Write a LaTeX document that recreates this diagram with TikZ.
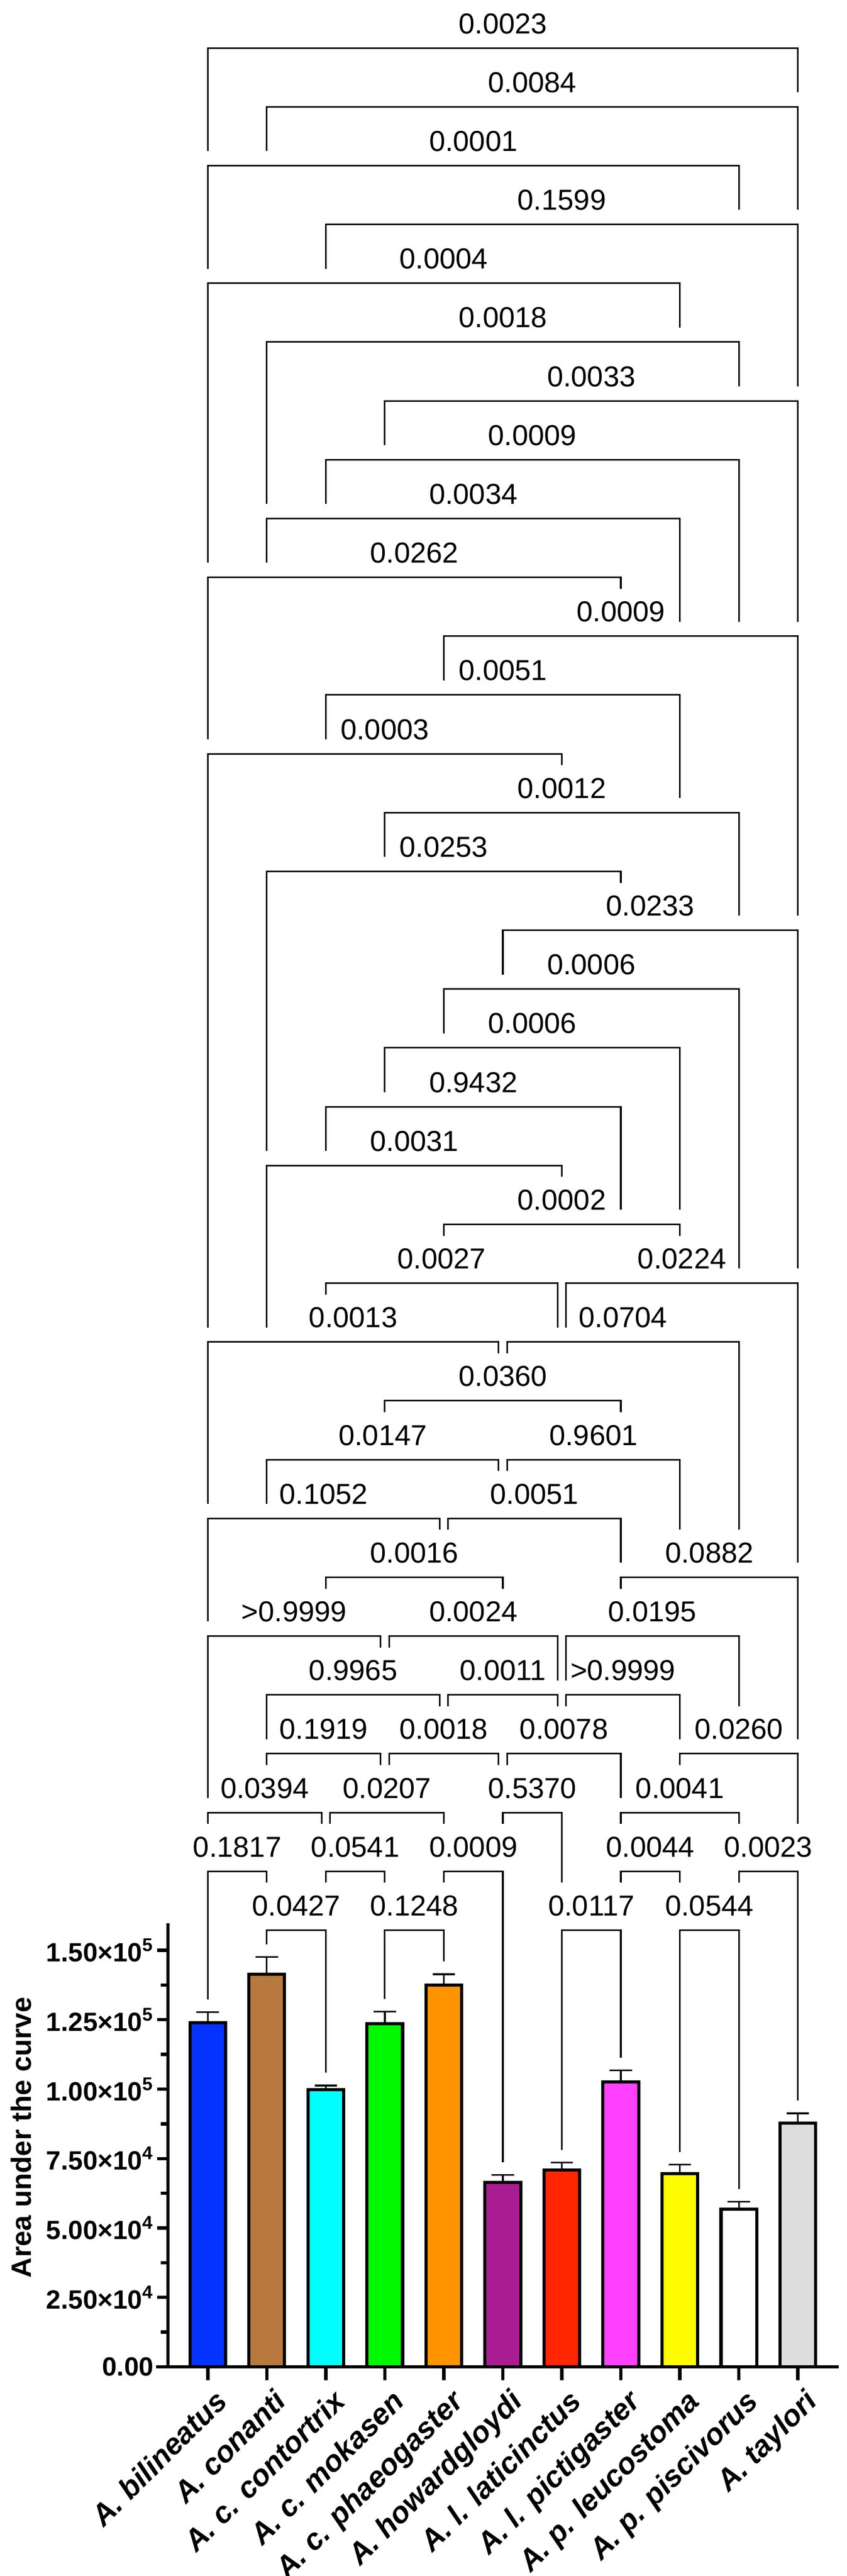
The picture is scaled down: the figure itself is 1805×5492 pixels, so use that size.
\documentclass[tikz,border=0pt]{standalone}
\usepackage{fontspec}
\setmainfont{Liberation Sans}
\definecolor{cB}{HTML}{0433FF}
\definecolor{cC}{HTML}{B8793E}
\definecolor{cCy}{HTML}{00FFFF}
\definecolor{cG}{HTML}{00F900}
\definecolor{cO}{HTML}{FF9300}
\definecolor{cP}{HTML}{AA1C91}
\definecolor{cR}{HTML}{FF2600}
\definecolor{cM}{HTML}{FF40FF}
\definecolor{cY}{HTML}{FFFB00}
\definecolor{cW}{HTML}{FFFFFF}
\definecolor{cGr}{HTML}{DDDDDD}
\tikzset{
 brk/.style={line width=0.034cm, line join=miter},
 plab/.style={inner sep=0pt, font=\fontsize{17.5}{19}\selectfont},
 barbox/.style={line width=0.067cm},
 errl/.style={line width=0.035cm},
 axisl/.style={line width=0.07cm},
 ticklab/.style={anchor=east, inner sep=0pt, font=\bfseries\fontsize{16}{18}\selectfont},
 xlab/.style={anchor=north east, rotate=45, inner sep=0pt, font=\bfseries\itshape\fontsize{18}{20}\selectfont}
}
\newcommand\brk[6]{%
 \pgfmathsetmacro\yy{4115-125.4*#1}%
 \pgfmathsetmacro\xa{443+125.8*#2+#5}%
 \pgfmathsetmacro\xb{443+125.8*#3+#6}%
 \edef\ta{\csname tp#2\endcsname}\edef\tb{\csname tp#3\endcsname}%
 \draw[brk] (\xa,\ta) -- (\xa,\yy) -- (\xb,\yy) -- (\xb,\tb);
 \node[plab] (p#2x#3) at ({(\xa+\xb)/2},{\yy-52}) {#4};}
\newcommand\upd[3]{%
 \pgfmathsetmacro\yb{4115-125.4*#1-31}%
 \pgfmathsetmacro\yl{4115-125.4*#1-101}%
 \foreach \c in {#2,...,#3}{\expandafter\xdef\csname tp\c\endcsname{\yb}}%
 \pgfmathtruncatemacro\ssum{#2+#3}%
 \ifodd\ssum\relax
   \pgfmathtruncatemacro\clA{(\ssum-1)/2}\pgfmathtruncatemacro\clB{(\ssum+1)/2}%
   \expandafter\xdef\csname tp\clA\endcsname{\yl}\expandafter\xdef\csname tp\clB\endcsname{\yl}%
 \else
   \pgfmathtruncatemacro\clA{\ssum/2}\expandafter\xdef\csname tp\clA\endcsname{\yl}%
 \fi}
\begin{document}
\begin{tikzpicture}[x=0.01cm,y=-0.01cm]
\useasboundingbox (0,0) rectangle (1805,5492);
% bars
\foreach \i/\v/\e/\col/\nm in {0/1.240/1.277/cB/A. bilineatus,1/1.414/1.476/cC/A. conanti,2/0.998/1.013/cCy/A. c. contortrix,3/1.235/1.279/cG/A. c. mokasen,4/1.375/1.414/cO/A. c. phaeogaster,5/0.664/0.691/cP/A. howardgloydi,6/0.709/0.735/cR/A. l. laticinctus,7/1.026/1.068/cM/A. l. pictigaster,8/0.696/0.729/cY/A. p. leucostoma,9/0.567/0.594/cW/A. p. piscivorus,10/0.877/0.913/cGr/A. taylori}{
 \pgfmathsetmacro\x{443+125.8*\i}
 \pgfmathsetmacro\yt{5046-\v*592}
 \pgfmathsetmacro\yc{5046-\e*592}
 \draw[errl] (\x,\yt) -- (\x,\yc) (\x-24,\yc) -- (\x+24,\yc);
 \draw[barbox, fill=\col] (\x-38,5046) rectangle (\x+38,\yt);
 \draw[axisl] (\x,5046) -- (\x,5074);
 \node[xlab] (xl\i) at (\x+12,5090) {\nm};
 \pgfmathsetmacro\t{5046-\e*592-27}
 \expandafter\xdef\csname tp\i\endcsname{\t}
}
% axes
\draw[axisl] (358,4100) -- (358,5046);
\draw[axisl] (333,5046) -- (1788,5046);
\foreach \k in {1,...,6}{\draw[axisl] (335,5046-\k*148) -- (358,5046-\k*148);}
\foreach \k in {0,...,5}{\draw[axisl] (343,5046-\k*148-74) -- (358,5046-\k*148-74);}
\node[ticklab] (t0) at (328,5046) {0.00};
\node[ticklab] (t1) at (328,4898) {2.50×10\textsuperscript{4}};
\node[ticklab] (t2) at (328,4750) {5.00×10\textsuperscript{4}};
\node[ticklab] (t3) at (328,4602) {7.50×10\textsuperscript{4}};
\node[ticklab] (t4) at (328,4454) {1.00×10\textsuperscript{5}};
\node[ticklab] (t5) at (328,4306) {1.25×10\textsuperscript{5}};
\node[ticklab] (t6) at (328,4158) {1.50×10\textsuperscript{5}};
\node[rotate=90, inner sep=0pt, font=\bfseries\fontsize{17}{19}\selectfont] (ytitle) at (45,4557) {Area under the curve};
% brackets
\brk{0}{1}{2}{0.0427}{0}{0}\brk{0}{3}{4}{0.1248}{0}{0}\brk{0}{6}{7}{0.0117}{0}{0}\brk{0}{8}{9}{0.0544}{0}{0}
\upd{0}{1}{2}\upd{0}{3}{4}\upd{0}{6}{7}\upd{0}{8}{9}
\brk{1}{0}{1}{0.1817}{0}{0}\brk{1}{2}{3}{0.0541}{0}{0}\brk{1}{4}{5}{0.0009}{0}{0}\brk{1}{7}{8}{0.0044}{0}{0}\brk{1}{9}{10}{0.0023}{0}{0}
\upd{1}{0}{1}\upd{1}{2}{3}\upd{1}{4}{5}\upd{1}{7}{8}\upd{1}{9}{10}
\brk{2}{0}{2}{0.0394}{0}{-9}\brk{2}{2}{4}{0.0207}{9}{0}\brk{2}{5}{6}{0.5370}{0}{0}\brk{2}{7}{9}{0.0041}{0}{0}
\upd{2}{0}{2}\upd{2}{2}{4}\upd{2}{5}{6}\upd{2}{7}{9}
\brk{3}{1}{3}{0.1919}{0}{-9}\brk{3}{3}{5}{0.0018}{9}{-9}\brk{3}{5}{7}{0.0078}{9}{0}\brk{3}{8}{10}{0.0260}{0}{0}
\upd{3}{1}{3}\upd{3}{3}{5}\upd{3}{5}{7}\upd{3}{8}{10}
\brk{4}{1}{4}{0.9965}{0}{-9}\brk{4}{4}{6}{0.0011}{9}{-9}\brk{4}{6}{8}{>0.9999}{9}{0}
\upd{4}{1}{4}\upd{4}{4}{6}\upd{4}{6}{8}
\brk{5}{0}{3}{>0.9999}{0}{-9}\brk{5}{3}{6}{0.0024}{9}{-9}\brk{5}{6}{9}{0.0195}{9}{0}
\upd{5}{0}{3}\upd{5}{3}{6}\upd{5}{6}{9}
\brk{6}{2}{5}{0.0016}{0}{0}\brk{6}{7}{10}{0.0882}{0}{0}
\upd{6}{2}{5}\upd{6}{7}{10}
\brk{7}{0}{4}{0.1052}{0}{-9}\brk{7}{4}{7}{0.0051}{9}{0}
\upd{7}{0}{4}\upd{7}{4}{7}
\brk{8}{1}{5}{0.0147}{0}{-9}\brk{8}{5}{8}{0.9601}{9}{0}
\upd{8}{1}{5}\upd{8}{5}{8}
\brk{9}{3}{7}{0.0360}{0}{0}\upd{9}{3}{7}
\brk{10}{0}{5}{0.0013}{0}{-9}\brk{10}{5}{9}{0.0704}{9}{0}
\upd{10}{0}{5}\upd{10}{5}{9}
\brk{11}{2}{6}{0.0027}{0}{-9}\brk{11}{6}{10}{0.0224}{9}{0}
\upd{11}{2}{6}\upd{11}{6}{10}
\brk{12}{4}{8}{0.0002}{0}{0}\upd{12}{4}{8}
\brk{13}{1}{6}{0.0031}{0}{0}\upd{13}{1}{6}
\brk{14}{2}{7}{0.9432}{0}{0}\upd{14}{2}{7}
\brk{15}{3}{8}{0.0006}{0}{0}\upd{15}{3}{8}
\brk{16}{4}{9}{0.0006}{0}{0}\upd{16}{4}{9}
\brk{17}{5}{10}{0.0233}{0}{0}\upd{17}{5}{10}
\brk{18}{1}{7}{0.0253}{0}{0}\upd{18}{1}{7}
\brk{19}{3}{9}{0.0012}{0}{0}\upd{19}{3}{9}
\brk{20}{0}{6}{0.0003}{0}{0}\upd{20}{0}{6}
\brk{21}{2}{8}{0.0051}{0}{0}\upd{21}{2}{8}
\brk{22}{4}{10}{0.0009}{0}{0}\upd{22}{4}{10}
\brk{23}{0}{7}{0.0262}{0}{0}\upd{23}{0}{7}
\brk{24}{1}{8}{0.0034}{0}{0}\upd{24}{1}{8}
\brk{25}{2}{9}{0.0009}{0}{0}\upd{25}{2}{9}
\brk{26}{3}{10}{0.0033}{0}{0}\upd{26}{3}{10}
\brk{27}{1}{9}{0.0018}{0}{0}\upd{27}{1}{9}
\brk{28}{0}{8}{0.0004}{0}{0}\upd{28}{0}{8}
\brk{29}{2}{10}{0.1599}{0}{0}\upd{29}{2}{10}
\brk{30}{0}{9}{0.0001}{0}{0}\upd{30}{0}{9}
\brk{31}{1}{10}{0.0084}{0}{0}\upd{31}{1}{10}
\brk{32}{0}{10}{0.0023}{0}{0}\upd{32}{0}{10}
\end{tikzpicture}
\end{document}
